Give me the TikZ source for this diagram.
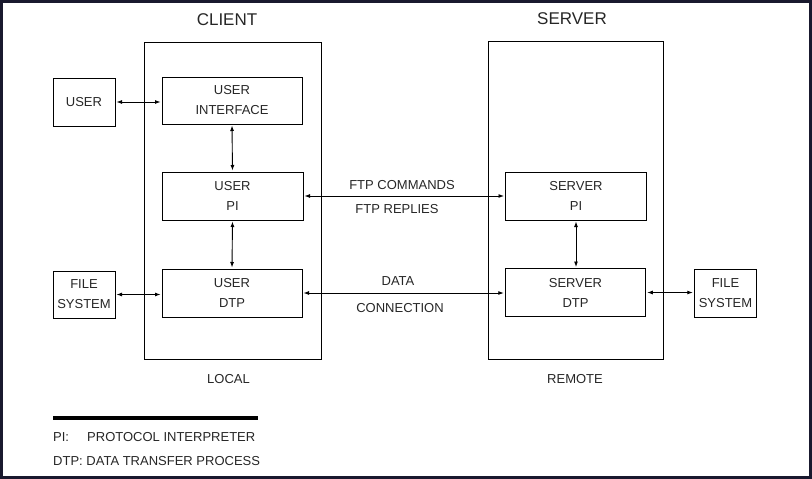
\documentclass[tikz,border=0pt]{standalone}
\usepackage{fontspec}
\setmainfont{Liberation Sans}
\usetikzlibrary{arrows.meta}
\definecolor{framedark}{rgb}{0.10,0.10,0.18}

\begin{document}
\begin{tikzpicture}[
  x=1pt, y=-1pt,
  box/.style={rectangle, draw, line width=1pt, inner sep=0pt, align=center,
    font=\fontsize{13}{20}\selectfont, text=black!85},
  side/.style={rectangle, draw, line width=1pt, inner sep=0pt},
  title/.style={font=\fontsize{17}{20}\selectfont, text=black!85},
  txt/.style={font=\fontsize{13}{15}\selectfont, inner sep=0pt, text=black!85},
  link/.style={{Latex[length=5.5pt,width=4pt]}-{Latex[length=5.5pt,width=4pt]}, line width=0.9pt, shorten <=1pt, shorten >=1pt}
]
  \useasboundingbox (0,0) rectangle (812,479);
  \draw[framedark, line width=3pt] (1.5,1.5) rectangle (810.5,477.5);

  % client side
  \node[side, minimum width=177pt, minimum height=317pt] (client) at (232.5,200.5) {};
  \node[title] (clientlbl) at (227,20) {CLIENT};
  \node[txt] (local) at (228.5,379) {LOCAL};
  \node[box, minimum width=62pt, minimum height=48pt] (user) at (84,102) {USER};
  \node[box, minimum width=140pt, minimum height=47pt] (ui) at (232,100.5) {USER\\INTERFACE};
  \node[box, minimum width=141pt, minimum height=48pt] (upi) at (232.5,196) {USER\\PI};
  \node[box, minimum width=140pt, minimum height=48pt] (udtp) at (232,293) {USER\\DTP};
  \node[box, minimum width=62pt, minimum height=47pt] (ufs) at (84,294.5) {FILE\\SYSTEM};

  % server side
  \node[side, minimum width=175.5pt, minimum height=318pt] (server) at (575.75,200) {};
  \node[title] (serverlbl) at (572,19) {SERVER};
  \node[txt] (remote) at (575,379) {REMOTE};
  \node[box, minimum width=141pt, minimum height=48pt] (spi) at (576,196) {SERVER\\PI};
  \node[box, minimum width=140.5pt, minimum height=48pt] (sdtp) at (575.5,292.5) {SERVER\\DTP};
  \node[box, minimum width=62.5pt, minimum height=48pt] (sfs) at (725.5,293) {FILE\\SYSTEM};

  % connections
  \draw[link] (user.east) -- (user.east -| ui.west);
  \draw[link] (ui.south) -- (upi.north);
  \draw[link] (upi.south) -- (udtp.north);
  \draw[link] (ufs.east) -- (ufs.east -| udtp.west);
  \draw[link] (upi.east) -- (spi.west);
  \draw[link] (udtp.east) -- (udtp.east -| sdtp.west);
  \draw[link] (spi.south) -- (spi.south |- sdtp.north);
  \draw[link] (sdtp.east) -- (sdtp.east -| sfs.west);

  % connector labels
  \node[txt] (cmds) at (402,185) {FTP COMMANDS};
  \node[txt] (replies) at (397,209) {FTP REPLIES};
  \node[txt] (data) at (398,281) {DATA};
  \node[txt] (conn) at (400,308) {CONNECTION};

  % legend
  \draw[line width=4pt] (53,418) -- (258,418);
  \node[txt, anchor=west] (pikey) at (53,437) {PI:};
  \node[txt, anchor=west] (pitext) at (87,437) {PROTOCOL INTERPRETER};
  \node[txt, anchor=west] (dtpkey) at (53,461) {DTP: DATA TRANSFER PROCESS};
\end{tikzpicture}
\end{document}
